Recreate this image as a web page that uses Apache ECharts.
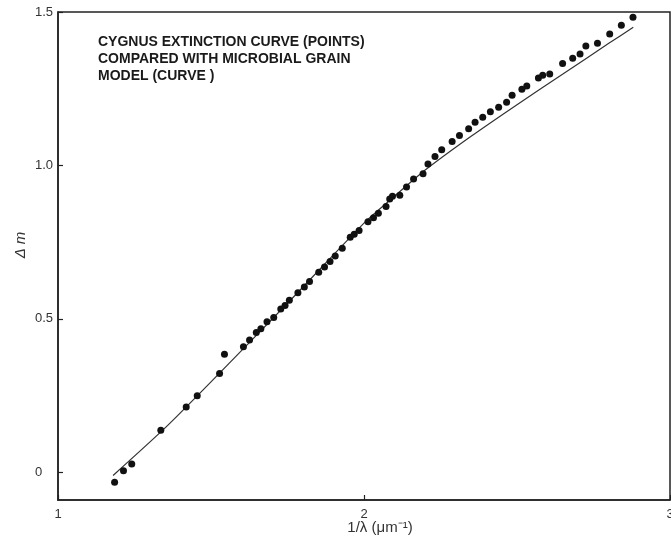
<!DOCTYPE html>
<html>
<head>
<meta charset="utf-8">
<script src="https://cdn.jsdelivr.net/npm/echarts@6/dist/echarts.min.js"></script>
<style>html,body{margin:0;padding:0;background:#fff}#c{width:671px;height:550px}</style>
</head>
<body>
<div id="c"></div>
<script>
// Observed points: 1/lambda (um^-1) and delta m
const pointX = [1.185,1.214,1.241,1.336,1.419,1.455,1.528,1.544,1.606,1.626,1.648,1.663,1.683,1.705,1.728,1.742,1.756,1.784,1.805,1.822,1.852,1.871,1.889,1.906,1.929,1.955,1.968,1.984,2.013,2.031,2.047,2.072,2.084,2.093,2.117,2.139,2.162,2.193,2.209,2.232,2.254,2.288,2.312,2.342,2.363,2.388,2.413,2.440,2.466,2.484,2.516,2.532,2.570,2.584,2.607,2.649,2.682,2.706,2.725,2.763,2.803,2.841,2.879];
const pointY = [-0.032,0.005,0.027,0.137,0.213,0.250,0.322,0.385,0.409,0.431,0.456,0.468,0.491,0.505,0.532,0.544,0.561,0.585,0.604,0.622,0.652,0.669,0.687,0.705,0.730,0.766,0.776,0.788,0.817,0.830,0.844,0.866,0.891,0.900,0.903,0.930,0.956,0.973,1.005,1.029,1.051,1.078,1.098,1.120,1.141,1.157,1.175,1.190,1.206,1.229,1.248,1.259,1.285,1.294,1.298,1.332,1.349,1.363,1.389,1.398,1.428,1.457,1.483];
// Model curve
const curveX = [1.18,1.35,1.5,1.75,2.0,2.1,2.2,2.35,2.5,2.65,2.8,2.88];
const curveY = [-0.01,0.145,0.295,0.551,0.812,0.90,0.985,1.095,1.198,1.298,1.398,1.45];
// Tick labels
const xTicks = [1,2,3];
const yTicks = [0,0.5,1.0,1.5];
const yTickLabels = {"0":"0","0.5":"0.5","1":"1.0","1.5":"1.5"};
const noteLines = ["CYGNUS EXTINCTION CURVE (POINTS)","COMPARED WITH MICROBIAL GRAIN","MODEL (CURVE )"];

const chart = echarts.init(document.getElementById('c'), null, {renderer:'canvas'});
const axisCol = '#222';
const lblFont = {color:'#333', fontSize:13, fontFamily:'Liberation Sans, Arial, sans-serif'};
chart.setOption({
  animation:false,
  backgroundColor:'#fff',
  grid:{left:58, top:12, width:612, height:488, outerBoundsMode:'none', containLabel:false, show:true, borderColor:axisCol, borderWidth:1.5, backgroundColor:'transparent'},
  xAxis:{type:'value', min:1, max:3, interval:1,
    axisLine:{show:true, onZero:false, lineStyle:{color:axisCol, width:1.5}},
    axisTick:{show:true, inside:true, length:5, customValues:xTicks, lineStyle:{color:axisCol, width:1.2}},
    axisLabel:Object.assign({margin:8, customValues:xTicks, formatter:v=>String(v)}, lblFont),
    splitLine:{show:false}},
  yAxis:{type:'value', min:-0.09, max:1.5,
    axisLine:{show:true, onZero:false, lineStyle:{color:axisCol, width:1.5}},
    axisTick:{show:true, inside:true, length:5, customValues:yTicks, lineStyle:{color:axisCol, width:1.2}},
    axisLabel:Object.assign({margin:23, align:'left', customValues:yTicks, formatter:v=>yTickLabels[String(v)] || String(v)}, lblFont),
    splitLine:{show:false}},
  graphic:[
    {type:'text', left:98, top:34, style:{text:noteLines.join('\n'), fill:'#1a1a1a', font:'bold 14px "Liberation Sans", Arial, sans-serif', lineHeight:17}},
    {type:'text', x:380, y:528, style:{text:'1/λ (μm⁻¹)', fill:'#333', font:'15px "Liberation Sans", Arial, sans-serif', align:'center', verticalAlign:'middle'}},
    {type:'text', x:21, y:245, rotation:Math.PI/2, style:{text:'Δ m', fill:'#333', font:'italic 15px "Liberation Sans", Arial, sans-serif', align:'center', verticalAlign:'middle'}}
  ],
  series:[
    {type:'line', data:curveX.map((x,i)=>[x,curveY[i]]), showSymbol:false, smooth:0.2, lineStyle:{color:'#333', width:1.2}, z:1},
    {type:'scatter', data:pointX.map((x,i)=>[x,pointY[i]]), symbol:'circle', symbolSize:7, itemStyle:{color:'#111', opacity:1}, z:2}
  ]
});
</script>
</body>
</html>
